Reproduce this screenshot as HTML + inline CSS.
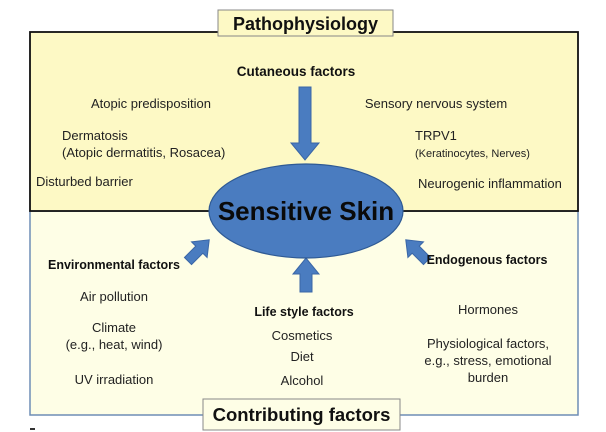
<!DOCTYPE html>
<html><head><meta charset="utf-8"><style>
body{margin:0;background:#fff;}
svg{display:block;font-family:"Liberation Sans",Arial,sans-serif;}
</style></head><body>
<svg width="606" height="432" viewBox="0 0 606 432" xmlns="http://www.w3.org/2000/svg">
<rect x="0" y="0" width="606" height="432" fill="#fff"/>
<rect x="30" y="211" width="548" height="204" fill="#fefee6" stroke="#6f8db5" stroke-width="1.5"/>
<rect x="30" y="32" width="548" height="179" fill="#fdf9c5" stroke="#111" stroke-width="1.8"/>
<rect x="218" y="10" width="175" height="26" fill="#fdf9c5" stroke="#888" stroke-width="1"/>
<text x="305.5" y="30" font-size="18" font-weight="bold" text-anchor="middle" fill="#111">Pathophysiology</text>
<rect x="203" y="399" width="197" height="31" fill="#fefee6" stroke="#888" stroke-width="1"/>
<text x="301.5" y="421" font-size="18.5" font-weight="bold" text-anchor="middle" fill="#111">Contributing factors</text>
<g fill="#4a7cc0" stroke="#3a66a6" stroke-width="1">
<polygon points="299,87 311,87 311,143 319,143 305,160 291,143 299,143"/>
<polygon points="300,292 312,292 312,274 319,274 306,258 293,274 300,274"/>
<polygon points="0,-5 16,-5 16,-11 30,0 16,11 16,5 0,5" transform="translate(188,261) rotate(-45)"/>
<polygon points="0,-5 16,-5 16,-11 30,0 16,11 16,5 0,5" transform="translate(427,261) rotate(-135)"/>
</g>
<ellipse cx="306" cy="211" rx="97" ry="47" fill="#4a7cc0" stroke="#2f5a94" stroke-width="1.2"/>
<text x="306" y="220" font-size="26" font-weight="bold" text-anchor="middle" fill="#0a0a0a">Sensitive Skin</text>
<g font-size="13" fill="#222">
<text x="296" y="76" font-size="13.5" font-weight="bold" text-anchor="middle" fill="#111">Cutaneous factors</text>
<text x="151" y="108" text-anchor="middle">Atopic predisposition</text>
<text x="62" y="140">Dermatosis</text>
<text x="62" y="157">(Atopic dermatitis, Rosacea)</text>
<text x="36" y="186">Disturbed barrier</text>
<text x="436" y="108" text-anchor="middle">Sensory nervous system</text>
<text x="415" y="140">TRPV1</text>
<text x="415" y="157" font-size="11">(Keratinocytes, Nerves)</text>
<text x="418" y="188">Neurogenic inflammation</text>
</g>
<g font-size="13" fill="#222" text-anchor="middle">
<text x="114" y="269" font-size="12.5" font-weight="bold" fill="#111">Environmental factors</text>
<text x="114" y="301">Air pollution</text>
<text x="114" y="332">Climate</text>
<text x="114" y="349">(e.g., heat, wind)</text>
<text x="114" y="384">UV irradiation</text>
<text x="304" y="316" font-size="12.5" font-weight="bold" fill="#111">Life style factors</text>
<text x="302" y="340">Cosmetics</text>
<text x="302" y="361">Diet</text>
<text x="302" y="385">Alcohol</text>
<text x="487" y="264" font-size="12.5" font-weight="bold" fill="#111">Endogenous factors</text>
<text x="488" y="314">Hormones</text>
<text x="488" y="348">Physiological factors,</text>
<text x="488" y="365">e.g., stress, emotional</text>
<text x="488" y="382">burden</text>
</g>
<rect x="30" y="428" width="5" height="2" fill="#333"/>
</svg>
</body></html>
